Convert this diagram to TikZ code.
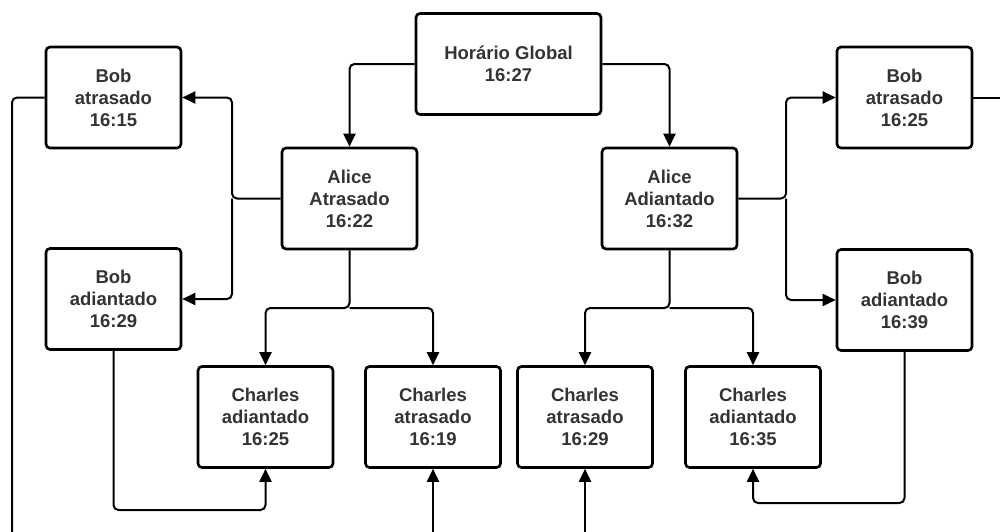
\documentclass[tikz,border=0pt]{standalone}
\usepackage{fontspec}
\setmainfont{Liberation Sans}
\usetikzlibrary{arrows.meta}
\definecolor{txtgray}{HTML}{333333}
\tikzset{
  box/.style={draw=black, line width=2.6pt, rounded corners=4pt, minimum width=135pt, minimum height=101pt,
    inner sep=0pt, align=center, text=txtgray, font=\fontsize{18.5}{22}\selectfont\bfseries},
  conn/.style={draw=black, line width=2pt, rounded corners=5pt},
  arr/.style={conn, -{Triangle[length=13pt,width=12pt]}}
}
\begin{document}
\begin{tikzpicture}[x=1pt,y=-1pt]
\useasboundingbox (0,0) rectangle (1000,531);
\node[box, minimum width=185pt] (glob) at (508.5,64) {Horário Global\\16:27};
\node[box] (aliceA) at (349.5,198.5) {Alice\\Atrasado\\16:22};
\node[box] (aliceD) at (669.5,198.5) {Alice\\Adiantado\\16:32};
\node[box] (bobL1) at (113.5,97.5) {Bob\\atrasado\\16:15};
\node[box] (bobL2) at (113.5,299) {Bob\\adiantado\\16:29};
\node[box] (bobR1) at (904.5,97.5) {Bob\\atrasado\\16:25};
\node[box] (bobR2) at (904.5,300) {Bob\\adiantado\\16:39};
\node[box] (ch1) at (265.5,417) {Charles\\adiantado\\16:25};
\node[box] (ch2) at (433,417) {Charles\\atrasado\\16:19};
\node[box] (ch3) at (585,417) {Charles\\atrasado\\16:29};
\node[box] (ch4) at (753,417) {Charles\\adiantado\\16:35};

\coordinate (splitL) at (232,198.5);
\coordinate (splitR) at (786,198.5);
\coordinate (bsplitL) at (349.5,308);
\coordinate (bsplitR) at (669.5,308);
\coordinate (exitL) at (12,535);
\coordinate (exitR) at (1004,97.5);
\coordinate (lowL) at (190,510);
\coordinate (lowR) at (830,503);
\coordinate (in2) at (433,535);
\coordinate (in3) at (585,535);

\draw[arr] (glob.west) -| (aliceA.north);
\draw[arr] (glob.east) -| (aliceD.north);

\draw[arr] (aliceA.west) -- (splitL) |- (bobL1.east);
\draw[arr] (splitL) |- (bobL2.east);
\draw[arr] (aliceD.east) -- (splitR) |- (bobR1.west);
\draw[arr] (splitR) |- (bobR2.west);

\draw[arr] (aliceA.south) -- (bsplitL) -| (ch1.north);
\draw[arr] (bsplitL) -| (ch2.north);
\draw[arr] (aliceD.south) -- (bsplitR) -| (ch3.north);
\draw[arr] (bsplitR) -| (ch4.north);

\draw[conn] (bobL1.west) -| (exitL);
\draw[conn] (bobR1.east) -- (exitR);
\draw[arr] (bobL2.south) |- (lowL) -| (ch1.south);
\draw[arr] (bobR2.south) |- (lowR) -| (ch4.south);
\draw[arr] (in2) -- (ch2.south);
\draw[arr] (in3) -- (ch3.south);
\end{tikzpicture}
\end{document}
